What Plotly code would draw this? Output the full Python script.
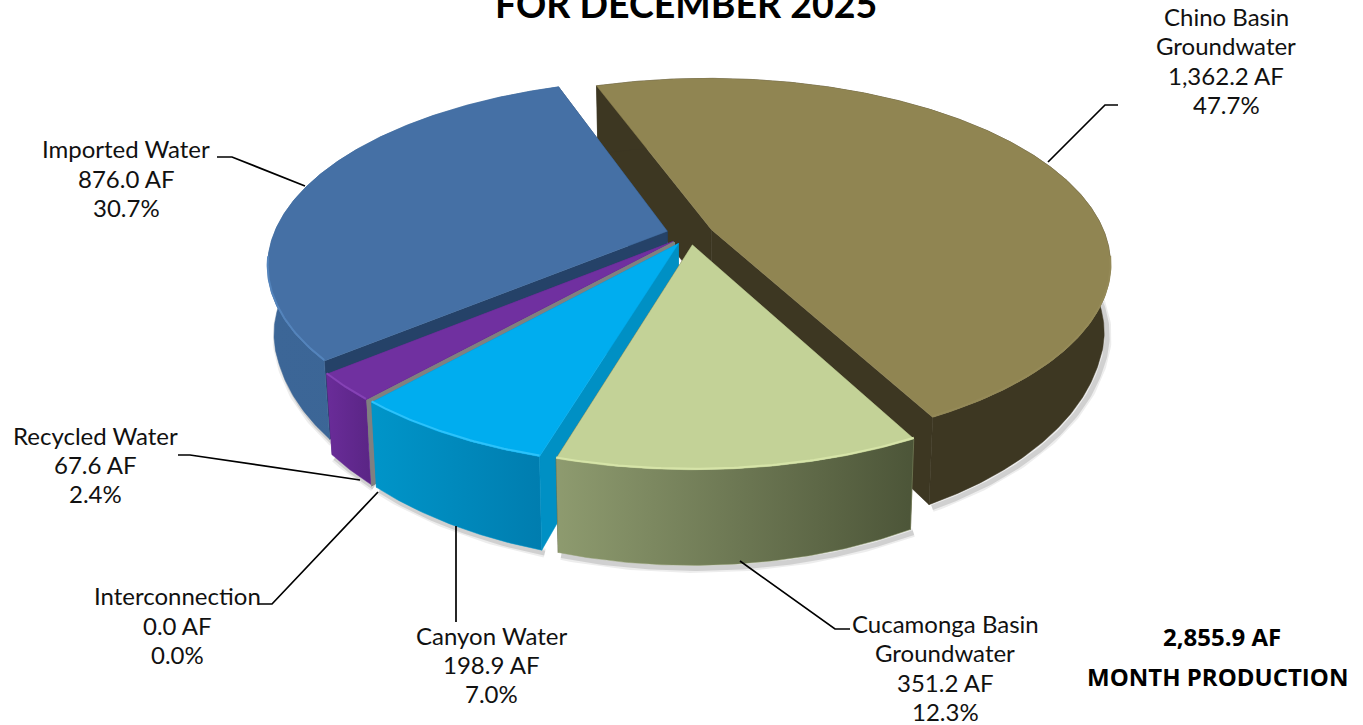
import numpy as np
import plotly.graph_objects as go

# ---- data ----
categories = ["Chino Basin Groundwater", "Cucamonga Basin Groundwater", "Canyon Water",
              "Interconnection", "Recycled Water", "Imported Water"]
values_af = [1362.2, 351.2, 198.9, 0.0, 67.6, 876.0]
label_lines = [["Chino Basin", "Groundwater", "1,362.2 AF", "47.7%"],
               ["Cucamonga Basin", "Groundwater", "351.2 AF", "12.3%"],
               ["Canyon Water", "198.9 AF", "7.0%"],
               ["Interconnection", "0.0 AF", "0.0%"],
               ["Recycled Water", "67.6 AF", "2.4%"],
               ["Imported Water", "876.0 AF", "30.7%"]]
title_text = "FOR DECEMBER 2025"
total_text = "2,855.9 AF"
total_caption = "MONTH PRODUCTION"

# ---- style ----
top_colors = ["#908552", "#C3D297", "#00ADEF", "#808080", "#7030A0", "#4570A5"]
rim_colors = ["#948957", "#D6E4A8", "#2CC2FA", "#808080", "#8542B5", "#5484BC"]
cut_colors = ["#3D3722", "#3D3722", "#0090C4", "#808080", "#5E2689", "#254268"]
wall_grad = [["#3D3722", "#3D3722"], ["#8E9B6F", "#4C5538"], ["#0095C9", "#007DAF"],
             ["#808080", "#808080"], ["#6A2C99", "#5A2585"], ["#3C6697", "#3A6594"]]
draw_order = [0, 5, 4, 3, 2, 1]
FONT = "Lato"

# ---- projection of a tilted, exploded pie ----
CX, CY = 690.0, 234.0
B, A, K = 393.5, 180.0, 0.18
START = 340.5
EXPLODE = 0.06


def project(X, Y):
    w = 1 - K * Y
    return B * X / w, A * Y / w


def top_pt(X, Y):
    px, py = project(X, Y)
    return CX + px, CY + py


def bottom_pt(X, Y):
    px, py = project(X, Y)
    depth = np.maximum(68.0, 58.0 + 0.16 * py)
    return CX + 0.985 * px, CY + py + depth


total = sum(values_af)
angles = [START]
for v in values_af:
    angles.append(angles[-1] + v / total * 360)

fig = go.Figure()
layers = []
for i in draw_order:
    a0, a1 = np.radians(angles[i]), np.radians(angles[i + 1])
    mid = (a0 + a1) / 2
    ex, ey = EXPLODE * np.sin(mid), -EXPLODE * np.cos(mid)
    th = np.linspace(a0, a1, max(4, int(np.degrees(a1 - a0) * 2)))
    RX, RY = ex + np.sin(th), ey - np.cos(th)
    layers.append((i, th, RX, RY, ex, ey))

# soft ground shadow
for i, th, RX, RY, ex, ey in layers:
    bx, by = bottom_pt(RX, RY)
    vis = by > CY + 20
    if vis.sum() < 2:
        continue
    for w, op in [(9, 0.07), (5, 0.12)]:
        fig.add_trace(go.Scatter(x=bx[vis] + 3, y=by[vis] + 3, mode="lines",
                                 line=dict(color=f"rgba(0,0,0,{op})", width=w),
                                 hoverinfo="skip", showlegend=False))

for i, th, RX, RY, ex, ey in layers:
    name = categories[i]
    tx, ty = top_pt(RX, RY)
    bx, by = bottom_pt(RX, RY)
    ax, ay = top_pt(np.array([ex]), np.array([ey]))
    qx, qy = bottom_pt(np.array([ex]), np.array([ey]))

    # cut faces
    for k in (0, -1):
        fig.add_trace(go.Scatter(
            x=[ax[0], tx[k], bx[k], qx[0], ax[0]], y=[ay[0], ty[k], by[k], qy[0], ay[0]],
            mode="lines", fill="toself", fillcolor=cut_colors[i],
            line=dict(color=cut_colors[i], width=1.5 if values_af[i] == 0 else 0.5),
            hoverinfo="skip", showlegend=False, name=name))
    # outer wall with a left-to-right gradient
    fig.add_trace(go.Scatter(
        x=np.r_[tx, bx[::-1], tx[0]], y=np.r_[ty, by[::-1], ty[0]],
        mode="lines", fill="toself",
        fillgradient=dict(type="horizontal",
                          colorscale=[[0, wall_grad[i][0]], [1, wall_grad[i][1]]]),
        line=dict(color=wall_grad[i][0], width=0.5),
        hoverinfo="skip", showlegend=False, name=name))
    # top face
    if values_af[i] > 0:
        fig.add_trace(go.Scatter(
            x=np.r_[ax, tx, ax], y=np.r_[ay, ty, ay], mode="lines", fill="toself",
            fillcolor=top_colors[i], line=dict(color=top_colors[i], width=0.5),
            hoverinfo="skip", showlegend=False, name=name))
        front = RY > 0.12
        if front.sum() > 1:
            fig.add_trace(go.Scatter(
                x=tx[front], y=ty[front] - 1, mode="lines",
                line=dict(color=rim_colors[i], width=2),
                hoverinfo="skip", showlegend=False, name=name))

# leader lines
leaders = [
    ([1048, 1105, 1118], [162, 105, 105]),
    ([740, 835, 850], [561, 629, 629]),
    ([456, 456], [526, 622]),
    ([378, 272, 258], [492, 604, 604]),
    ([360, 190, 178], [480, 455, 455]),
    ([305, 232, 217], [186, 157, 157]),
]
for lx, ly in leaders:
    fig.add_trace(go.Scatter(x=lx, y=ly, mode="lines", line=dict(color="#000000", width=1.7),
                             hoverinfo="skip", showlegend=False))

label_pos = [(1226, 60.5), (945, 667.5), (491, 664.5), (177, 625), (95, 464.5), (126, 178)]
LINE_STEP = 29.3
annotations = []
for lines, (lx, ly) in zip(label_lines, label_pos):
    first = ly - LINE_STEP * (len(lines) - 1) / 2
    for n, line in enumerate(lines):
        annotations.append(dict(x=lx, y=first + n * LINE_STEP, xref="x", yref="y", text=line,
                                showarrow=False, xanchor="center", yanchor="middle",
                                font=dict(family=FONT, size=24, color="#111111")))
annotations += [
    dict(x=686, y=3, xref="x", yref="y", text=f"<b>{title_text}</b>", showarrow=False,
         xanchor="center", yanchor="middle", font=dict(family=FONT, size=37.5, color="#000000")),
    dict(x=1222, y=636, xref="x", yref="y", text=f"<b>{total_text}</b>", showarrow=False,
         xanchor="center", yanchor="middle", font=dict(family="Open Sans", size=24, color="#000000")),
    dict(x=1217, y=676, xref="x", yref="y", text=f"<b>{total_caption}</b>", showarrow=False,
         xanchor="center", yanchor="middle", font=dict(family="Open Sans", size=24, color="#000000")),
]

fig.update_layout(
    width=1363, height=725, margin=dict(l=0, r=0, t=0, b=0),
    paper_bgcolor="#FFFFFF", plot_bgcolor="#FFFFFF", showlegend=False, annotations=annotations,
    xaxis=dict(range=[0, 1363], visible=False, fixedrange=True),
    yaxis=dict(range=[725, 0], visible=False, fixedrange=True),
)
fig.write_html("out.html", config={"displayModeBar": False},
               post_script="document.body.style.margin='0';document.body.style.overflow='hidden';")
